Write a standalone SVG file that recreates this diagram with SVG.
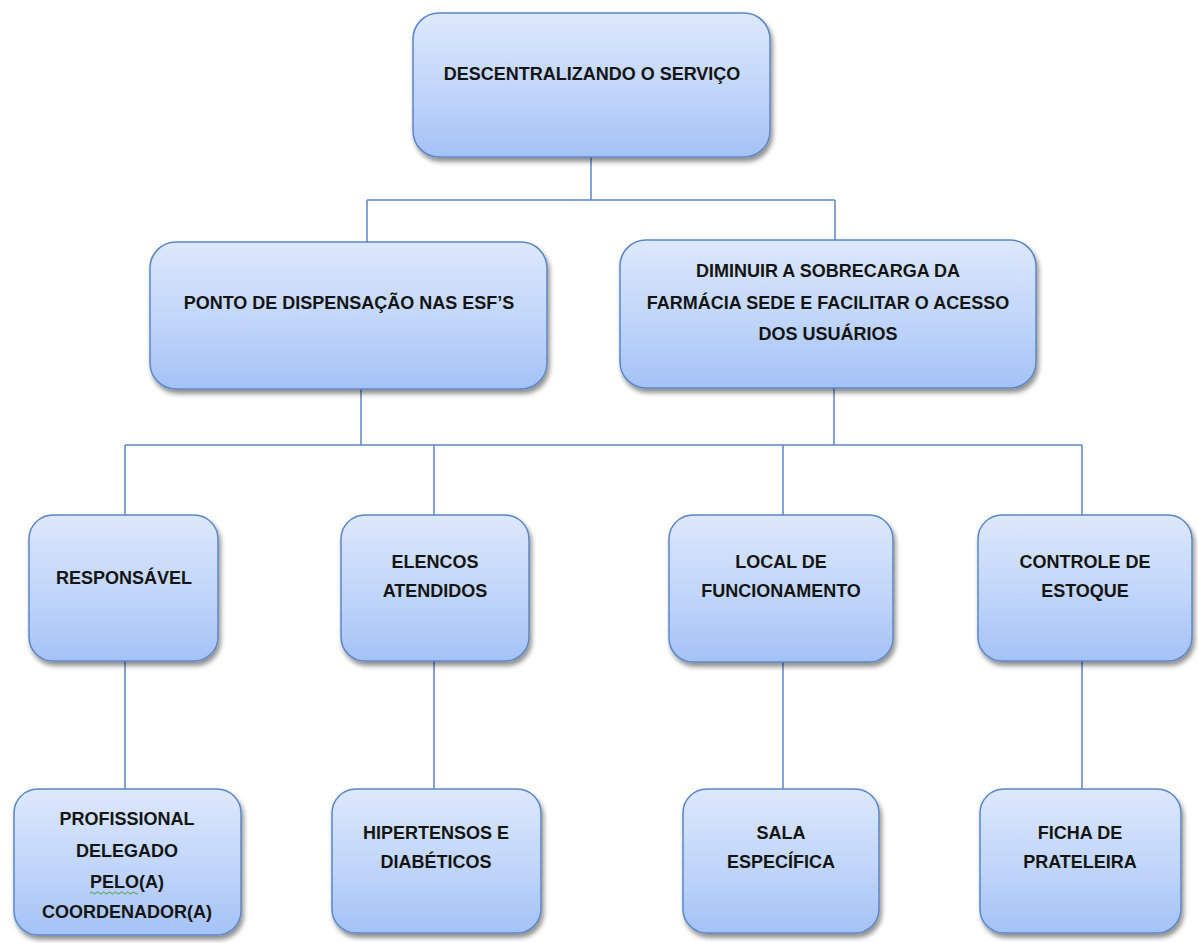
<svg xmlns="http://www.w3.org/2000/svg" width="1198" height="943" viewBox="0 0 1198 943">
<defs>
<linearGradient id="g" x1="0" y1="0" x2="0" y2="1">
<stop offset="0" stop-color="#dde8fb"/>
<stop offset="0.5" stop-color="#c3d7fa"/>
<stop offset="1" stop-color="#a4c2f6"/>
</linearGradient>
<filter id="sh" x="-10%" y="-10%" width="120%" height="130%">
<feGaussianBlur in="SourceAlpha" stdDeviation="2.5"/>
<feOffset dx="2" dy="4" result="b"/>
<feComponentTransfer><feFuncA type="linear" slope="0.45"/></feComponentTransfer>
<feMerge><feMergeNode/><feMergeNode in="SourceGraphic"/></feMerge>
</filter>
</defs>
<style>
.box{fill:url(#g);stroke:#5b87c6;stroke-width:1.5;filter:url(#sh)}
.t{font-family:"Liberation Sans",Arial,sans-serif;font-weight:bold;font-size:18px;fill:#141414;text-anchor:middle}
.c{fill:none;stroke:#5b87c6;stroke-width:1.5}
</style>
<rect width="1198" height="943" fill="#ffffff"/>
<g id="connectors">
<path class="c" d="M591 157V200M367 200H835M367 200V242M835 200V240"/>
<path class="c" d="M361 389V445M834 388V445M125 445H1082M125 445V515M434 445V515M783 445V515M1082 445V515"/>
<path class="c" d="M125 661V789M434 661V789M783 662V789M1082 661V789"/>
</g>
<g id="n-top">
<rect class="box" x="413" y="13" width="357" height="144" rx="26"/>
<text class="t" x="592" y="80">DESCENTRALIZANDO O SERVIÇO</text>
</g>
<g id="n-ponto">
<rect class="box" x="150" y="242" width="397" height="147" rx="26"/>
<text class="t" x="349" y="309">PONTO DE DISPENSAÇÃO NAS ESF’S</text>
</g>
<g id="n-diminuir">
<rect class="box" x="620" y="240" width="416" height="148" rx="26"/>
<text class="t" x="828" y="277">DIMINUIR A SOBRECARGA DA</text>
<text class="t" x="828" y="309">FARMÁCIA SEDE E FACILITAR O ACESSO</text>
<text class="t" x="828" y="340">DOS USUÁRIOS</text>
</g>
<g id="n-responsavel">
<rect class="box" x="29" y="515" width="189" height="146" rx="24"/>
<text class="t" x="124" y="584">RESPONSÁVEL</text>
</g>
<g id="n-elencos">
<rect class="box" x="341" y="515" width="188" height="146" rx="24"/>
<text class="t" x="435" y="568">ELENCOS</text>
<text class="t" x="435" y="597">ATENDIDOS</text>
</g>
<g id="n-local">
<rect class="box" x="669" y="515" width="224" height="147" rx="24"/>
<text class="t" x="781" y="568">LOCAL DE</text>
<text class="t" x="781" y="597">FUNCIONAMENTO</text>
</g>
<g id="n-controle">
<rect class="box" x="978" y="515" width="214" height="146" rx="24"/>
<text class="t" x="1085" y="568">CONTROLE DE</text>
<text class="t" x="1085" y="597">ESTOQUE</text>
</g>
<g id="n-profissional">
<rect class="box" x="14" y="789" width="227" height="146" rx="24"/>
<text class="t" x="127" y="825">PROFISSIONAL</text>
<text class="t" x="127" y="857">DELEGADO</text>
<text class="t" x="127" y="888">PELO(A)</text>
<text class="t" x="127" y="918">COORDENADOR(A)</text>
<path d="M90 893q1.5 -2 3 0t3 0t3 0t3 0t3 0t3 0t3 0t3 0t3 0t3 0t3 0t3 0t3 0t3 0t3 0t3 0" fill="none" stroke="#3aa03a" stroke-width="1"/>
</g>
<g id="n-hipertensos">
<rect class="box" x="332" y="789" width="209" height="144" rx="24"/>
<text class="t" x="436" y="839">HIPERTENSOS E</text>
<text class="t" x="436" y="868">DIABÉTICOS</text>
</g>
<g id="n-sala">
<rect class="box" x="683" y="789" width="196" height="144" rx="24"/>
<text class="t" x="781" y="839">SALA</text>
<text class="t" x="781" y="868">ESPECÍFICA</text>
</g>
<g id="n-ficha">
<rect class="box" x="980" y="789" width="201" height="144" rx="24"/>
<text class="t" x="1080" y="839">FICHA DE</text>
<text class="t" x="1080" y="868">PRATELEIRA</text>
</g>
</svg>
